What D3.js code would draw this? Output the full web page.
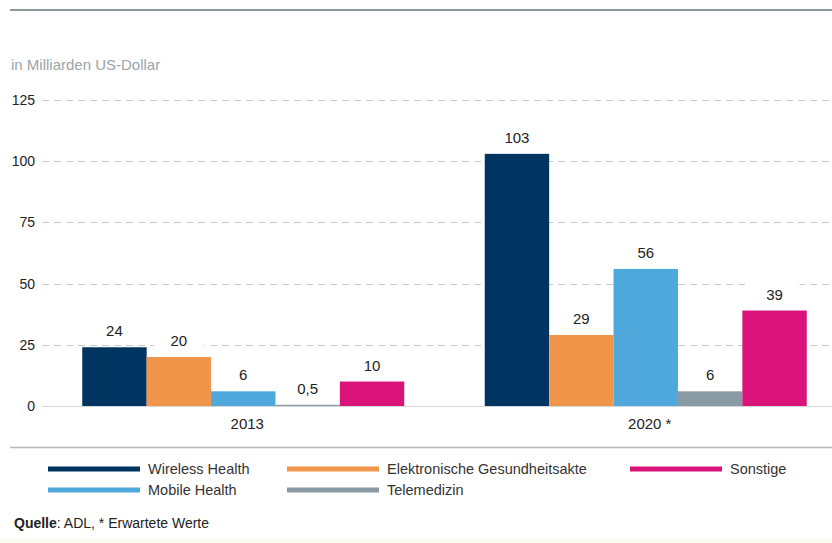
<!DOCTYPE html>
<html>
<head>
<meta charset="utf-8">
<script src="https://cdn.jsdelivr.net/npm/d3@7"></script>
<style>
  body { margin: 0; background: #fff; }
  svg { display: block; font-family: "Liberation Sans", Arial, sans-serif; }
</style>
</head>
<body>
<div id="chart"></div>
<script>
// data
const years = ['2013', '2020 *'];
const series = ['Wireless Health', 'Elektronische Gesundheitsakte', 'Mobile Health', 'Telemedizin', 'Sonstige'];
const colors = ['#003461', '#f0954a', '#4ea8dc', '#8a9aa4', '#d9137a'];
const values2013 = [24, 20, 6, 0.5, 10];
const values2020 = [103, 29, 56, 6, 39];
const labels2013 = ['24', '20', '6', '0,5', '10'];
const labels2020 = ['103', '29', '56', '6', '39'];
const yTicks = [0, 25, 50, 75, 100, 125];

const width = 832, height = 543;
const svg = d3.select('#chart').append('svg')
  .attr('width', width)
  .attr('height', height);

// faint strip at the very bottom
svg.append('rect')
  .attr('x', 0).attr('y', 538).attr('width', width).attr('height', 5)
  .attr('fill', '#fdfcf3');

// top rule
svg.append('line')
  .attr('x1', 10).attr('x2', width).attr('y1', 10).attr('y2', 10)
  .attr('stroke', '#8c9a9e').attr('stroke-width', 2);

svg.append('text')
  .attr('x', 11).attr('y', 70)
  .attr('font-size', 15).attr('fill', '#9aa5a8')
  .text('in Milliarden US-Dollar');

const x0 = d3.scaleBand().domain(years).range([42, 847]).paddingInner(0.2).paddingOuter(0.1);
const x1 = d3.scaleBand().domain(series).range([0, x0.bandwidth()]);
const y = d3.scaleLinear().domain([0, 125]).range([406, 100]);

// grid
const grid = svg.append('g');
grid.selectAll('line')
  .data(yTicks.filter(d => d > 0))
  .enter().append('line')
  .attr('x1', 42).attr('x2', width)
  .attr('y1', d => Math.round(y(d)) + 0.5).attr('y2', d => Math.round(y(d)) + 0.5)
  .attr('stroke', '#c9c9c9').attr('stroke-dasharray', '7,5');

grid.append('line')
  .attr('x1', 42).attr('x2', width)
  .attr('y1', y(0) + 0.5).attr('y2', y(0) + 0.5)
  .attr('stroke', '#d3d6d8');

// y axis labels
const yAxis = svg.append('g')
  .attr('transform', 'translate(35,0)')
  .call(d3.axisLeft(y).tickValues(yTicks).tickSize(0).tickPadding(0));
yAxis.select('.domain').remove();
yAxis.selectAll('text')
  .attr('font-size', 14).attr('fill', '#222')
  .attr('font-family', '"Liberation Sans", Arial, sans-serif');

const rows = years.map((yr, i) => ({
  year: yr,
  values: series.map((s, j) => ({
    s, j,
    v: i === 0 ? values2013[j] : values2020[j],
    label: i === 0 ? labels2013[j] : labels2020[j]
  }))
}));

const groups = svg.selectAll('.grp')
  .data(rows)
  .enter().append('g')
  .attr('class', 'grp')
  .attr('transform', d => 'translate(' + x0(d.year) + ',0)');

// label backgrounds hide the dashed grid behind the numbers
groups.selectAll('.lbg')
  .data(d => d.values)
  .enter().append('rect')
  .attr('x', d => x1(d.s) + x1.bandwidth() / 2 - 25)
  .attr('y', d => y(d.v) - 28)
  .attr('width', 50).attr('height', 24)
  .attr('fill', '#fff');

groups.selectAll('.bar')
  .data(d => d.values)
  .enter().append('rect')
  .attr('x', d => x1(d.s))
  .attr('y', d => y(d.v))
  .attr('width', x1.bandwidth())
  .attr('height', d => y(0) - y(d.v))
  .attr('fill', d => colors[d.j]);

groups.selectAll('.val')
  .data(d => d.values)
  .enter().append('text')
  .attr('x', d => x1(d.s) + x1.bandwidth() / 2)
  .attr('y', d => y(d.v) - 11)
  .attr('text-anchor', 'middle')
  .attr('font-size', 15).attr('fill', '#222')
  .text(d => d.label);

// category labels
svg.append('g').selectAll('text')
  .data(years)
  .enter().append('text')
  .attr('x', d => x0(d) + x0.bandwidth() / 2 + 4)
  .attr('y', 429)
  .attr('text-anchor', 'middle')
  .attr('font-size', 15).attr('fill', '#222')
  .text(d => d);

// separator
svg.append('line')
  .attr('x1', 10).attr('x2', width).attr('y1', 447.5).attr('y2', 447.5)
  .attr('stroke', '#b5b8ba').attr('stroke-width', 1.5);

// legend
const legendPos = [[48, 469], [287, 469], [48, 490], [287, 490], [630, 469]];
const legend = svg.append('g').selectAll('g')
  .data(series)
  .enter().append('g')
  .attr('transform', (d, i) => 'translate(' + legendPos[i][0] + ',' + legendPos[i][1] + ')');
legend.append('line')
  .attr('x1', 0).attr('x2', 92)
  .attr('stroke', (d, i) => colors[i]).attr('stroke-width', 5);
legend.append('text')
  .attr('x', 100).attr('y', 5)
  .attr('font-size', 14.5).attr('fill', '#333')
  .text(d => d);

// source
const src = svg.append('text')
  .attr('x', 14).attr('y', 528)
  .attr('font-size', 14).attr('fill', '#222');
src.append('tspan').attr('font-weight', 'bold').text('Quelle');
src.append('tspan').text(': ADL, * Erwartete Werte');
</script>
</body>
</html>
